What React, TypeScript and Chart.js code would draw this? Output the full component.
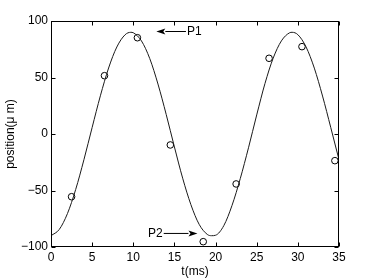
import React, { useEffect, useRef } from "react";
import { Chart, registerables } from "chart.js";

Chart.register(...registerables);

// Fitted curve (t in ms, position in µm)
const curveT = [0, 1, 2, 3, 4, 5, 6, 7, 8, 9, 9.7, 10, 11, 12, 13, 14, 15, 16, 17, 18, 19, 19.5, 20, 21, 22, 23, 24, 25, 26, 27, 28, 29, 29.3, 30, 31, 32, 33, 34, 35];
const curveY = [-90, -84.5, -70.4, -49.1, -22.8, 5.8, 33.8, 58.4, 77.0, 87.8, 90, 89.6, 82.3, 66.8, 44.2, 17.3, -11.5, -39.1, -62.5, -79.9, -88.9, -90, -89.6, -81.1, -63.2, -39.5, -12.2, 16.9, 44.6, 67.1, 82.4, 89.6, 90, 87.9, 77.0, 58.3, 33.6, 5.7, -22.8];

// Measured samples (circles)
const sampleT = [2.5, 6.5, 10.5, 14.5, 18.5, 22.5, 26.5, 30.5, 34.5];
const sampleY = [-55.5, 51.6, 85.2, -9.7, -95.3, -44.2, 67.0, 77.3, -23.6];

const xTicks = [0, 5, 10, 15, 20, 25, 30, 35];
const yTicks = [-100, -50, 0, 50, 100];

const xTitle = "t(ms)";
const yTitle = "position(\u03bc m)";

// Annotations: label, arrow height (y), arrow tail t, arrow tip t
const annLabels = ["P1", "P2"];
const annY = [90.7, -88];
const annTail = [16.4, 13.7];
const annTip = [12.8, 17.8];

const FONT = "'Liberation Sans', Arial, Helvetica, sans-serif";

const boxPlugin = {
  id: "matlabBox",
  afterDraw(chart: any) {
    const { ctx, chartArea: a, scales } = chart;
    const xs = scales.x;
    const ys = scales.y;
    ctx.save();
    ctx.strokeStyle = "#000";
    ctx.lineWidth = 1;
    const L = Math.round(a.left) + 0.5;
    const R = Math.round(a.right) - 0.5;
    const T = Math.round(a.top) + 0.5;
    const B = Math.round(a.bottom) - 0.5;
    ctx.strokeRect(L, T, R - L, B - T);
    const tl = 4;
    ctx.beginPath();
    xTicks.forEach((v) => {
      const px = Math.round(xs.getPixelForValue(v)) + 0.5;
      ctx.moveTo(px, B);
      ctx.lineTo(px, B - tl);
      ctx.moveTo(px, T);
      ctx.lineTo(px, T + tl);
    });
    yTicks.forEach((v) => {
      const py = Math.round(ys.getPixelForValue(v)) + 0.5;
      ctx.moveTo(L, py);
      ctx.lineTo(L + tl, py);
      ctx.moveTo(R, py);
      ctx.lineTo(R - tl, py);
    });
    ctx.stroke();

    // annotations
    ctx.fillStyle = "#000";
    ctx.font = "12px " + FONT;
    ctx.textBaseline = "middle";
    annLabels.forEach((lab, i) => {
      const py = ys.getPixelForValue(annY[i]);
      const tail = xs.getPixelForValue(annTail[i]);
      const tip = xs.getPixelForValue(annTip[i]);
      const dir = tip > tail ? 1 : -1;
      const head = 9;
      ctx.beginPath();
      ctx.moveTo(tail, py);
      ctx.lineTo(tip - dir * head, py);
      ctx.stroke();
      ctx.beginPath();
      ctx.moveTo(tip, py);
      ctx.lineTo(tip - dir * head, py - 3);
      ctx.lineTo(tip - dir * head + dir * 2, py);
      ctx.lineTo(tip - dir * head, py + 3);
      ctx.closePath();
      ctx.fill();
      if (dir < 0) {
        ctx.textAlign = "left";
        ctx.fillText(lab, tail + 1, py);
      } else {
        ctx.textAlign = "right";
        ctx.fillText(lab, tail - 1, py);
      }
    });
    ctx.restore();
  },
};

export default function App() {
  const ref = useRef<HTMLCanvasElement | null>(null);
  useEffect(() => {
    document.body.style.margin = "0";
    const canvas = ref.current!;
    const chart = new Chart(canvas, {
      type: "scatter",
      data: {
        datasets: [
          {
            data: curveT.map((t, i) => ({ x: t, y: curveY[i] })),
            showLine: true,
            borderColor: "#1a1a1a",
            borderWidth: 1,
            pointRadius: 0,
            cubicInterpolationMode: "monotone",
            fill: false,
          },
          {
            data: sampleT.map((t, i) => ({ x: t, y: sampleY[i] })),
            showLine: false,
            pointStyle: "circle",
            pointRadius: 3.3,
            borderColor: "#000",
            borderWidth: 1,
            backgroundColor: "rgba(0,0,0,0)",
          },
        ],
      },
      options: {
        responsive: false,
        animation: false,
        devicePixelRatio: 1,
        layout: { padding: { top: 21, right: 35, left: 0, bottom: 0 } },
        plugins: { legend: { display: false }, tooltip: { enabled: false } },
        scales: {
          x: {
            type: "linear",
            min: 0,
            max: 35,
            afterBuildTicks: (s: any) => {
              s.ticks = xTicks.map((v) => ({ value: v }));
            },
            ticks: {
              color: "#000",
              font: { family: FONT, size: 12 },
              padding: 3,
              maxRotation: 0,
            },
            grid: { display: false, drawTicks: false },
            border: { display: false },
            title: {
              display: true,
              text: xTitle,
              color: "#000",
              font: { family: FONT, size: 12 },
              padding: { top: 0, bottom: 1 },
            },
            afterFit: (s: any) => {
              s.height = 33;
            },
          },
          y: {
            type: "linear",
            min: -100,
            max: 100,
            afterBuildTicks: (s: any) => {
              s.ticks = yTicks.map((v) => ({ value: v }));
            },
            ticks: {
              color: "#000",
              font: { family: FONT, size: 12 },
              padding: 3,
              callback: (v: any) => (Number(v) < 0 ? "\u2212" + Math.abs(Number(v)) : String(v)),
            },
            grid: { display: false, drawTicks: false },
            border: { display: false },
            title: {
              display: true,
              text: yTitle,
              color: "#000",
              font: { family: FONT, size: 12 },
              padding: { top: 3, bottom: 0 },
            },
            afterFit: (s: any) => {
              s.width = 51;
            },
          },
        },
      },
      plugins: [boxPlugin],
    } as any);
    return () => chart.destroy();
  }, []);
  return <canvas ref={ref} width={374} height={280} style={{ display: "block" }} />;
}
